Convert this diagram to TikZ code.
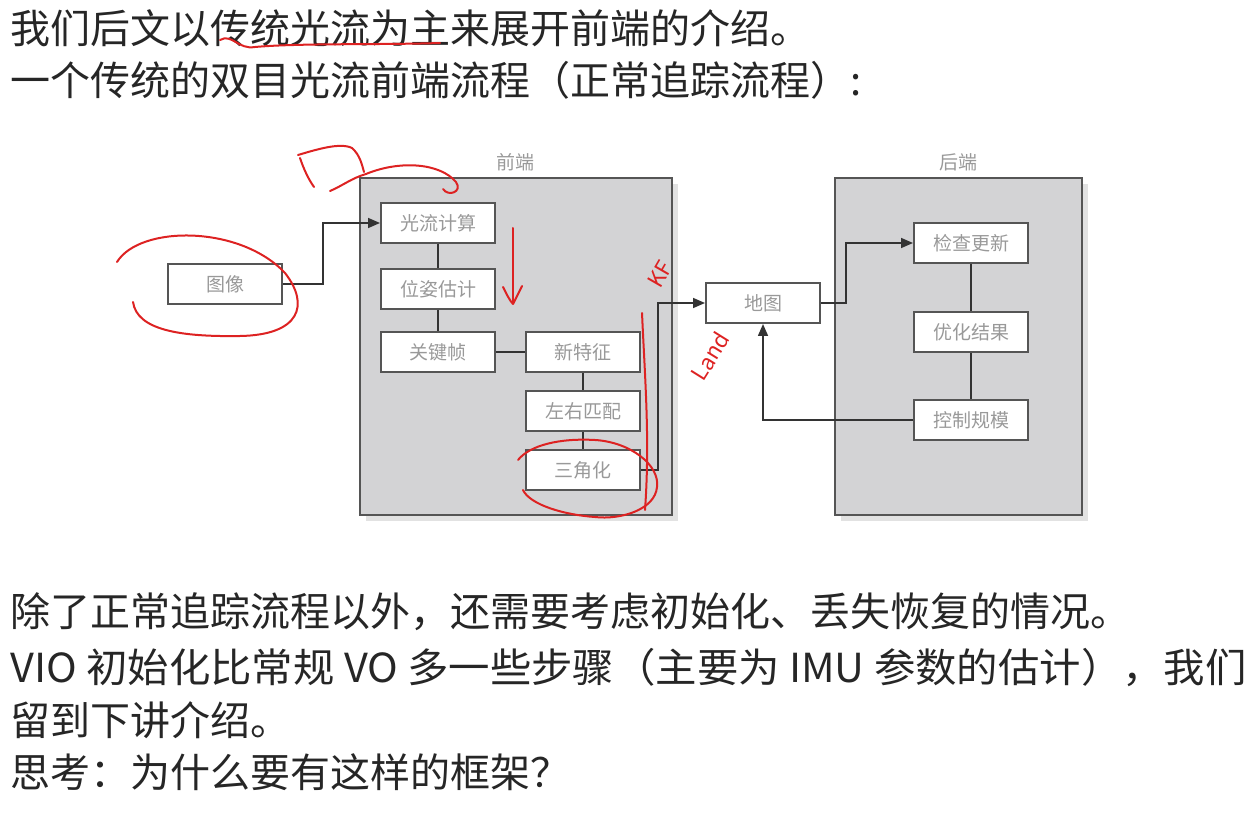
\documentclass[tikz,border=0pt]{standalone}
\usepackage{fontspec}
\usepackage{graphicx}
\setmainfont{Noto Sans CJK SC}
\usetikzlibrary{arrows.meta}
\definecolor{groupfill}{HTML}{D3D3D5}
\definecolor{groupshadow}{HTML}{E2E2E2}
\definecolor{boxborder}{HTML}{555555}
\definecolor{nodetext}{HTML}{999999}
\definecolor{connc}{HTML}{333333}
\definecolor{penred}{HTML}{DD2222}
\begin{document}
\begin{tikzpicture}[x=0.5pt,y=-0.5pt,
  box/.style={draw=boxborder, line width=1pt, fill=white, minimum width=57pt, minimum height=20pt, inner sep=0pt, text=nodetext, font=\fontsize{9.5pt}{10pt}\selectfont},
  group/.style={draw=boxborder, line width=1pt, fill=groupfill, inner sep=0pt},
  shadowbox/.style={fill=groupshadow, draw=none, inner sep=0pt},
  glabel/.style={text=nodetext, font=\fontsize{9.5pt}{10pt}\selectfont},
  conn/.style={draw=connc, line width=0.8pt},
  arr/.style={conn, -{Triangle[length=6pt, width=5pt]}},
  body/.style={anchor=west, inner sep=0pt, font=\fontsize{20pt}{24pt}\selectfont, text=black!85},
  hand/.style={draw=penred, line width=1pt, line cap=round, line join=round},
  handtext/.style={text=penred, inner sep=0pt, font=\fontsize{11pt}{12pt}\selectfont}
]
\path[use as bounding box] (0,0) rectangle (1256,817);

% text lines
\node[body] (t1) at (10,28) {我们后文以传统光流为主来展开前端的介绍。};
\node[body] (t2) at (10,80) {一个传统的双目光流前端流程（正常追踪流程）:};
\node[body] (b1) at (10,612) {除了正常追踪流程以外，还需要考虑初始化、丢失恢复的情况。};
\node[body] (b2) at (10,668) {\scalebox{1.035}[1]{VIO 初始化比常规 VO 多一些步骤（主要为 IMU 参数的估计），我们}};
\node[body] (b3) at (10,720) {留到下讲介绍。};
\node[body] (b4) at (10,772) {思考：为什么要有这样的框架？};

% group boxes with shadows
\node[shadowbox, minimum width=156pt, minimum height=168.5pt] (frontsh) at (522,352.5) {};
\node[group, minimum width=156pt, minimum height=168.5pt] (front) at (516,346.5) {};
\node[shadowbox, minimum width=123.5pt, minimum height=168.5pt] (backsh) at (964.5,352.5) {};
\node[group, minimum width=123.5pt, minimum height=168.5pt] (back) at (958.5,346.5) {};
\node[glabel] (frontlbl) at (515,162) {前端};
\node[glabel] (backlbl) at (958,162) {后端};

% nodes
\node[box] (img) at (225,284) {图像};
\node[box] (flow) at (438,223) {光流计算};
\node[box] (pose) at (438,289) {位姿估计};
\node[box] (kf) at (438,352) {关键帧};
\node[box] (newf) at (583,352) {新特征};
\node[box] (lr) at (583,411) {左右匹配};
\node[box] (tri) at (583,470) {三角化};
\node[box] (map) at (763,303) {地图};
\node[box] (check) at (971,243) {检查更新};
\node[box] (opt) at (971,332) {优化结果};
\node[box] (ctrl) at (971,420) {控制规模};

% connectors
\draw[arr] (img.east) -- ++(40,0) |- (flow.west);
\draw[conn] (flow) -- (pose);
\draw[conn] (pose) -- (kf);
\draw[conn] (kf) -- (newf);
\draw[conn] (newf) -- (lr);
\draw[conn] (lr) -- (tri);
\draw[arr] (tri.east) -- ++(17,0) |- (map.west);
\draw[arr] (map.east) -- ++(25,0) |- (check.west);
\draw[conn] (check) -- (opt);
\draw[conn] (opt) -- (ctrl);
\draw[arr] (ctrl.west) -| (map.south);

% red handwriting
\draw[hand] (220,40) .. controls (232,33) and (238,50) .. (255,47) .. controls (300,43) and (380,45) .. (440,43);
\draw[hand] (300,158) .. controls (304,170) and (309,180) .. (314,187);
\draw[hand] (298,155) .. controls (315,150) and (340,142) .. (352,148) .. controls (360,155) and (362,165) .. (364,172);
\draw[hand] (330,191) .. controls (342,186) and (352,178) .. (366,174) .. controls (400,160) and (440,163) .. (456,182) .. controls (463,192) and (448,197) .. (443,189);
\draw[hand] (117,262) .. controls (140,225) and (240,225) .. (285,273) .. controls (310,305) and (300,335) .. (240,336) .. controls (180,337) and (137,330) .. (133,302);
\draw[hand] (513,228) -- (513,302);
\draw[hand] (503,287) .. controls (507,295) and (510,301) .. (513,304) .. controls (516,298) and (519,292) .. (522,286);
\node[handtext, rotate=60] (kfnote) at (660,274) {KF};
\draw[hand] (642,313) .. controls (645,380) and (650,440) .. (645,510);
\node[handtext, rotate=58] (landnote) at (710,356) {Land};
\draw[hand] (518,460) .. controls (530,445) and (560,438) .. (595,440) .. controls (630,442) and (660,465) .. (657,487) .. controls (655,510) and (620,520) .. (595,517) .. controls (565,515) and (530,505) .. (523,490);
\end{tikzpicture}
\end{document}
